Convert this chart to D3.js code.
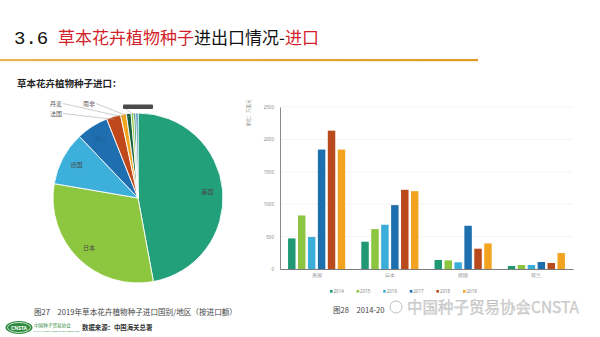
<!DOCTYPE html>
<html><head><meta charset="utf-8">
<script src="https://cdn.jsdelivr.net/npm/d3@7/dist/d3.min.js"></script>
<style>
html,body{margin:0;padding:0;background:#fff;}
svg{display:block;font-family:"Noto Sans CJK SC","Noto Sans",sans-serif;}
</style></head><body>
<svg id="c" width="600" height="337"></svg>
<script>
// ---- data ----
const pieLabels = ["美国","日本","德国","荷兰","法国","丹麦","南非","","",""];
const pieValues = [47.1, 30.6, 10.2, 6.1, 2.7, 1.1, 0.9, 0.5, 0.4, 0.4];
const pieColors = ["#21a07a","#8dc63f","#3cb0da","#1f6eb0","#c0491c","#f2a620","#17603f","#8dc63f","#0f7f5a","#1f6eb0"];

const barCategories = ["美国","日本","德国","荷兰"];
const years = ["2014","2015","2016","2017","2018","2019"];
const v2014 = [472, 421, 139, 46];
const v2015 = [826, 616, 133, 62];
const v2016 = [493, 683, 103, 62];
const v2017 = [1843, 986, 667, 108];
const v2018 = [2135, 1222, 313, 92];
const v2019 = [1843, 1201, 395, 246];
const yearColors = ["#1f9873","#8cc540","#3aaed9","#1d6fae","#b84a1b","#f2a31f"];
const yTicks = [0, 500, 1000, 1500, 2000, 2500];

const series = [v2014, v2015, v2016, v2017, v2018, v2019];
const svg = d3.select("#c");

// ---- header ----
const t = svg.append("text").attr("x", 14).attr("y", 44).attr("font-size", 17);
t.append("tspan").attr("font-family","Liberation Mono, DejaVu Sans Mono, monospace").attr("font-size",19).attr("fill","#111").text("3.6");
t.append("tspan").attr("x", 58).attr("fill","#d21f2b").text("草本花卉植物种子");
t.append("tspan").attr("fill","#111").text("进出口情况-");
t.append("tspan").attr("fill","#d21f2b").text("进口");

const grad = svg.append("defs").append("linearGradient").attr("id","lg");
grad.append("stop").attr("offset","0").attr("stop-color","#e9b552");
grad.append("stop").attr("offset","1").attr("stop-color","#e09b22");
svg.append("rect").attr("x",0).attr("y",59).attr("width",478).attr("height",2.2).attr("fill","url(#lg)");

svg.append("text").attr("x",17).attr("y",87).attr("font-size",9.5).attr("font-weight","bold").attr("fill","#222")
  .text("草本花卉植物种子进口：");

// ---- pie ----
const cx = 138, cy = 198, R = 85;
const pie = d3.pie().sort(null).value(d => d)(pieValues);
const arc = d3.arc().innerRadius(0).outerRadius(R);
const g = svg.append("g").attr("transform", `translate(${cx},${cy})`);
g.selectAll("path").data(pie).join("path")
  .attr("d", arc).attr("fill", (d,i) => pieColors[i])
  .attr("stroke","#fff").attr("stroke-width",0.9);

// inside labels
const inArc = d3.arc().innerRadius(R*0.72).outerRadius(R*0.92);
g.selectAll("text.in").data(pie.slice(0,4)).join("text")
  .attr("class","in")
  .attr("transform", d => `translate(${inArc.centroid(d)})`)
  .attr("text-anchor","middle").attr("dy","0.35em")
  .attr("font-size",6).attr("fill", (d,i) => i===3 ? "#1c5f98" : "#4a4a4a")
  .text((d,i) => pieLabels[i]);

// outside labels with leader lines (label anchor points in page space)
const outside = [
  {i:4, lx:50, ly:116, ex:63},
  {i:5, lx:50, ly:106, ex:63},
  {i:6, lx:83, ly:106, ex:96}
];
const edge = d3.arc().innerRadius(R-3).outerRadius(R-3);
outside.forEach(o => {
  const c = edge.centroid(pie[o.i]);
  svg.append("polyline")
    .attr("points", `${o.ex},${o.ly-2.5} ${cx+c[0]},${cy+c[1]}`)
    .attr("fill","none").attr("stroke","#9a9a9a").attr("stroke-width",0.5);
  svg.append("text").attr("x",o.lx).attr("y",o.ly).attr("font-size",6).attr("fill","#555").text(pieLabels[o.i]);
});
// redacted label box
const c8 = edge.centroid(pie[8]);
svg.append("polyline").attr("points", `${124},107 ${cx+c8[0]},${cy+c8[1]}`)
  .attr("fill","none").attr("stroke","#9a9a9a").attr("stroke-width",0.5);
svg.append("rect").attr("x",123).attr("y",104.5).attr("width",30).attr("height",4.5).attr("rx",1).attr("fill","#4a4a4a");

// ---- bar chart ----
const x0 = d3.scaleBand().domain(barCategories).range([280, 573]).paddingInner(0.22).paddingOuter(0.11);
const x1 = d3.scaleBand().domain(years).range([0, x0.bandwidth()]).paddingInner(0.25);
const y = d3.scaleLinear().domain([0, 2500]).range([269, 107]);

const grid = svg.append("g");
grid.selectAll("line").data(yTicks.slice(1)).join("line")
  .attr("x1",280).attr("x2",573).attr("y1",d=>y(d)).attr("y2",d=>y(d))
  .attr("stroke","#ececec").attr("stroke-width",0.6);

const yAxis = svg.append("g").attr("transform","translate(280,0)")
  .call(d3.axisLeft(y).tickValues(yTicks).tickFormat(d3.format("d")).tickSize(0).tickPadding(6));
yAxis.select(".domain").attr("stroke","#8a8a8a").attr("stroke-width",1);
yAxis.selectAll("text").attr("font-size",4.5).attr("fill","#888").attr("font-family","Noto Sans, sans-serif");

const groups = svg.append("g").selectAll("g").data(barCategories).join("g")
  .attr("transform", c => `translate(${x0(c)},0)`);
groups.selectAll("rect").data((c,ci) => years.map((yr,k) => ({yr, v: series[k][ci], k})))
  .join("rect")
  .attr("x", d => x1(d.yr)).attr("width", x1.bandwidth())
  .attr("y", d => y(d.v)).attr("height", d => y(0) - y(d.v))
  .attr("fill", d => yearColors[d.k]);

const xAxis = svg.append("g").attr("transform", `translate(0,${y(0)})`)
  .call(d3.axisBottom(x0).tickSize(0).tickPadding(4));
xAxis.select(".domain").attr("stroke","#7a7a7a").attr("stroke-width",1.2);
xAxis.selectAll("text").attr("font-size",5).attr("fill","#888");

svg.append("text").attr("transform","translate(250,113) rotate(-90)")
  .attr("text-anchor","middle").attr("font-size",4.5).attr("fill","#888").text("单位：万美元");

// legend
const lg = svg.append("g").selectAll("g").data(years).join("g")
  .attr("transform",(d,i)=>`translate(${333 + i*26.6},292)`);
lg.append("rect").attr("x",-3).attr("y",-2).attr("width",2.6).attr("height",2.6).attr("fill",(d,i)=>yearColors[i]);
lg.append("text").attr("x",0.5).attr("y",1.4).attr("font-size",4.5).attr("fill","#888").attr("font-family","Noto Sans, sans-serif").text(d=>d);

// ---- captions ----
svg.append("text").attr("x",34).attr("y",315).attr("font-size",7.6).attr("fill","#444")
  .text("图27　2019年草本花卉植物种子进口国别/地区（按进口额）");
svg.append("text").attr("x",333).attr("y",313).attr("font-size",7.6).attr("fill","#444")
  .text("图28　2014-20");

// logo
svg.append("ellipse").attr("cx",19).attr("cy",327.5).attr("rx",13.5).attr("ry",6.5).attr("fill","#2e8b3e");
svg.append("ellipse").attr("cx",19).attr("cy",327.5).attr("rx",11.5).attr("ry",5).attr("fill","none").attr("stroke","#fff").attr("stroke-width",0.7);
svg.append("text").attr("x",19).attr("y",329.5).attr("text-anchor","middle").attr("font-size",5).attr("font-weight","bold").attr("fill","#fff").attr("font-family","Noto Sans, sans-serif").text("CNSTA");
svg.append("text").attr("x",34).attr("y",327).attr("font-size",4.6).attr("fill","#2e8b3e").text("中国种子贸易协会");
svg.append("text").attr("x",34).attr("y",331.5).attr("font-size",2.2).attr("fill","#2e8b3e").attr("font-family","Noto Sans, sans-serif").text("CHINA NATIONAL SEED TRADE ASSOCIATION");
svg.append("text").attr("x",82).attr("y",330).attr("font-size",6.4).attr("font-weight","bold").attr("fill","#333").text("数据来源：中国海关总署");

// watermark
svg.append("circle").attr("cx",396).attr("cy",307).attr("r",6).attr("fill","none").attr("stroke","#b8b8b8").attr("stroke-width",0.9);
svg.append("text").attr("x",407).attr("y",313).attr("font-size",15.5).attr("fill","#d6d6d6")
  .attr("stroke","#a8a8a8").attr("stroke-width",0.25).text("中国种子贸易协会CNSTA");
</script></body></html>
